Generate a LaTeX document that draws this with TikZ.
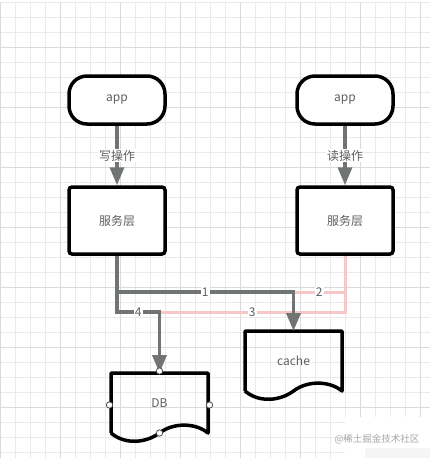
\documentclass[tikz,border=0pt]{standalone}
\usepackage{fontspec}
\setmainfont{Noto Sans CJK SC}
\usetikzlibrary{arrows.meta,calc}

\definecolor{flowgray}{RGB}{112,117,115}
\definecolor{txtgray}{RGB}{95,95,95}
\definecolor{readpink}{RGB}{248,200,200}
\definecolor{gridminor}{RGB}{234,234,234}
\definecolor{gridmajor}{RGB}{218,218,218}

\begin{document}
\begin{tikzpicture}[x=1pt, y=-1pt, font=\fontsize{12}{14}\selectfont,
  term/.style={draw=black, line width=3.5pt, rounded corners=18pt, fill=white,
    minimum width=96pt, minimum height=48pt, text=txtgray},
  layer/.style={draw=black, line width=3.5pt, rounded corners=3pt, fill=white,
    minimum width=96pt, minimum height=67pt, text=txtgray},
  docnode/.style={minimum width=97pt, minimum height=60pt, inner sep=0pt, outer sep=0pt, text=txtgray},
  docline/.style={line width=3.5pt, line join=round},
  flow/.style={draw=flowgray, line width=3.5pt, -{Triangle[length=18pt,width=14pt]}},
  readwire/.style={draw=readpink, line width=3pt},
  lbl/.style={fill=white, text=txtgray, inner sep=1pt},
  handle/.style={draw=black!70, fill=white, line width=0.8pt}
]
\useasboundingbox (0,0) rectangle (430,458);

%--------------------
% Background grid
%--------------------
\foreach \gx in {0,15,...,420} \draw[gridminor, line width=0.6pt] (\gx,2) -- (\gx,458);
\foreach \gy in {2,17,...,452} \draw[gridminor, line width=0.6pt] (0,\gy) -- (430,\gy);
\foreach \gx in {0,60,...,420} \draw[gridmajor, line width=0.6pt] (\gx,2) -- (\gx,458);
\foreach \gy in {47,107,...,407} \draw[gridmajor, line width=0.6pt] (0,\gy) -- (430,\gy);

%--------------------
% Clients and service layers
%--------------------
\node[term] (appW) at (117,100) {app};
\node[term] (appR) at (345,100) {app};
\node[layer] (svcW) at (117,220.5) {服务层};
\node[layer] (svcR) at (345,220.5) {服务层};

%--------------------
% Storage: cache and DB (document shapes)
%--------------------
\node[docnode] (cache) at (293.5,361) {cache};
\node[docnode] (db) at (159.5,403) {DB};

\foreach \d in {cache,db}
  \draw[docline] (\d.south west) -- (\d.north west) -- (\d.north east) -- (\d.south east)
    .. controls ($(\d.south west)+(85,-10)$) and ($(\d.south west)+(63,-11)$) .. ($(\d.south west)+(48.5,0)$)
    .. controls ($(\d.south west)+(35,10)$) and ($(\d.south west)+(14,12)$) .. (\d.south west);

% Rows where the connectors turn
\coordinate (row1) at (0,292);
\coordinate (row2) at (0,312);

%--------------------
% Read path (pink), behind
%--------------------
\draw[readwire] (svcR.south) -- (svcR.south |- row1) -- node[lbl]{2} (cache.north |- row1);
\draw[readwire] (svcR.south) -- (svcR.south |- row2) -- node[lbl]{3} (db.north |- row2);

%--------------------
% Requests and write path (gray)
%--------------------
\draw[flow] (appW) -- node[lbl]{写操作} (svcW);
\draw[flow] (appR) -- node[lbl]{读操作} (svcR);
\draw[flow] (svcW.south) -- (svcW.south |- row1) -- node[lbl]{1} (cache.north |- row1) -- (cache.north);
\draw[flow] (svcW.south) -- (svcW.south |- row2) -- node[lbl]{4} (db.north |- row2) -- (db.north);

% Selection handles on DB
\draw[handle] ($(db.north)+(0,-2)$) circle (3.2);
\draw[handle] ($(db.west)+(-1.5,2)$) circle (3.2);
\draw[handle] ($(db.east)+(1.5,2)$) circle (3.2);
\draw[handle] ($(db.south west)+(48.5,0)$) circle (3.2);

%--------------------
% Watermark
%--------------------
\fill[white] (345,417) rectangle (430,458);
\fill[black!4] (365,448) rectangle (430,458);
\node[text=black!35, font=\fontsize{9.5}{11}\selectfont] (mark) at (377,439) {@稀土掘金技术社区};

\end{tikzpicture}
\end{document}
